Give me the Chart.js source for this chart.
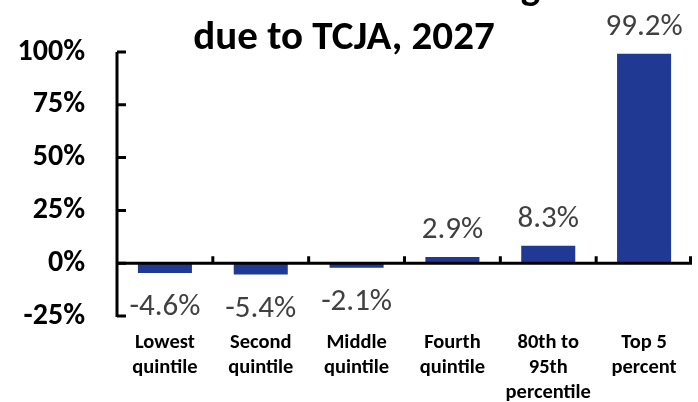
<!DOCTYPE html>
<html>
<head>
<meta charset="utf-8">
<script src="https://cdn.jsdelivr.net/npm/chart.js@4/dist/chart.umd.min.js"></script>
<style>
  html, body { margin: 0; padding: 0; background: #fff; }
  #wrap { width: 698px; height: 402px; position: relative; }
</style>
</head>
<body>
<div id="wrap"><canvas id="chart"></canvas></div>
<script>
// Data.
const categories = [
  ['Lowest', 'quintile'],
  ['Second', 'quintile'],
  ['Middle', 'quintile'],
  ['Fourth', 'quintile'],
  ['80th to', '95th', 'percentile'],
  ['Top 5', 'percent']
];
const shares = [-4.6, -5.4, -2.1, 2.9, 8.3, 99.2];
const yTicks = [-25, 0, 25, 50, 75, 100];
const titleLines = ['Share of Total Tax Change', 'due to TCJA, 2027'];

const FONT = 'Carlito, Lato, sans-serif';
const barColor = '#203A94';

// Title, axes with inward ticks, and value labels.
const decor = {
  id: 'decor',
  afterDatasetsDraw(chart) {
    const ctx = chart.ctx;
    const area = chart.chartArea;
    const y = chart.scales.y;
    const zero = y.getPixelForValue(0);

    ctx.save();
    ctx.strokeStyle = '#000';
    ctx.lineWidth = 3;
    ctx.lineCap = 'butt';

    // y axis line and ticks pointing right
    ctx.beginPath();
    ctx.moveTo(area.left, area.top);
    ctx.lineTo(area.left, area.bottom + 1);
    yTicks.forEach(v => {
      const py = y.getPixelForValue(v);
      ctx.moveTo(area.left, py);
      ctx.lineTo(area.left + 9, py);
    });
    ctx.stroke();

    // x axis at zero with ticks pointing up between categories
    ctx.beginPath();
    ctx.moveTo(area.left, zero);
    ctx.lineTo(area.right, zero);
    const step = (area.right - area.left) / categories.length;
    for (let i = 1; i <= categories.length; i++) {
      const px = area.left + step * i - (i === categories.length ? 1.5 : 0);
      ctx.moveTo(px, zero);
      ctx.lineTo(px, zero - 7);
    }
    ctx.stroke();

    // value labels
    ctx.fillStyle = '#404040';
    ctx.font = '31px ' + FONT;
    ctx.textAlign = 'center';
    ctx.textBaseline = 'alphabetic';
    const meta = chart.getDatasetMeta(0);
    meta.data.forEach((bar, i) => {
      const v = shares[i];
      const txt = v.toFixed(1) + '%';
      if (v >= 0) {
        ctx.fillText(txt, bar.x, bar.y - 19);
      } else {
        ctx.fillText(txt, bar.x, bar.y + 42);
      }
    });

    // title (first line sits mostly above the canvas edge)
    ctx.fillStyle = '#000';
    ctx.font = 'bold 41px ' + FONT;
    ctx.fillText(titleLines[0], 344, 0);
    ctx.fillText(titleLines[1], 344, 49);
    ctx.restore();
  }
};

new Chart(document.getElementById('chart'), {
  type: 'bar',
  data: {
    labels: categories,
    datasets: [{
      data: shares,
      backgroundColor: barColor,
      borderWidth: 0,
      barPercentage: 0.564,
      categoryPercentage: 1
    }]
  },
  options: {
    responsive: true,
    maintainAspectRatio: false,
    animation: false,
    layout: { padding: { top: 52, right: 6, left: 0, bottom: 0 } },
    plugins: {
      legend: { display: false },
      tooltip: { enabled: false }
    },
    scales: {
      x: {
        grid: { display: false, drawTicks: false },
        border: { display: false },
        ticks: {
          color: '#000',
          padding: 14,
          maxRotation: 0,
          autoSkip: false,
          font: { family: FONT, size: 20.5, weight: 'bold', lineHeight: 1.22 }
        },
        afterFit: function (scale) {
          scale.height = 86;
        }
      },
      y: {
        min: -25,
        max: 100,
        grid: { display: false, drawTicks: false },
        border: { display: false },
        ticks: {
          stepSize: 25,
          color: '#000',
          padding: 32,
          font: { family: FONT, size: 30, weight: 'bold' },
          callback: function (value) {
            return value + '%';
          }
        },
        afterFit: function (scale) {
          scale.width = 117;
        }
      }
    }
  },
  plugins: [decor]
});
</script>
</body>
</html>
